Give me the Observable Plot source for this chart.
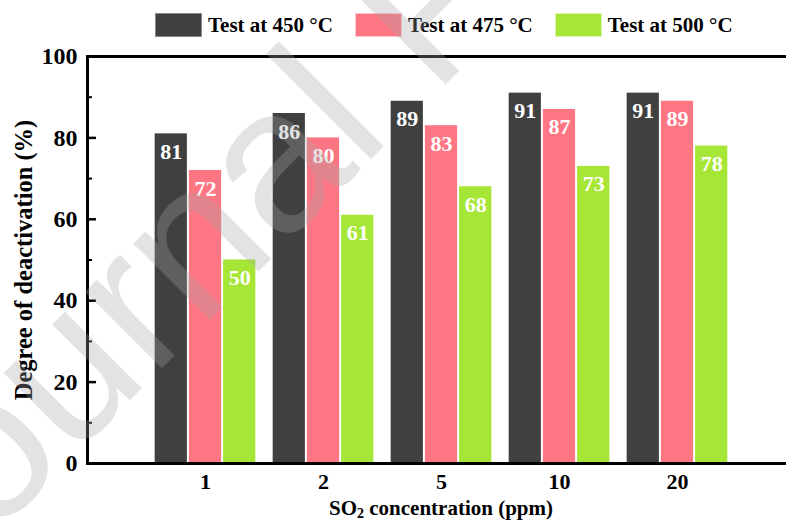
<!DOCTYPE html>
<html>
<head>
<meta charset="utf-8">
<script src="https://cdn.jsdelivr.net/npm/d3@7"></script>
<script src="https://cdn.jsdelivr.net/npm/@observablehq/plot@0.6"></script>
<style>
  html, body { margin: 0; padding: 0; background: #fff; overflow: hidden; }
  #page { position: relative; width: 786px; height: 521px; overflow: hidden;
          font-family: 'Liberation Serif', 'Times New Roman', serif; font-weight: bold; color: #000; }
  #legend { height: 44px; display: flex; align-items: flex-start; padding-left: 155px; box-sizing: border-box; }
  .item { display: flex; align-items: center; margin-top: 13px; margin-right: 22px; }
  .sw { width: 47px; height: 24px; box-sizing: border-box; margin-right: 6px; }
  .item span { font-size: 21px; line-height: 24px; white-space: nowrap; }
  #chart { width: 795px; height: 449px; }
  #chart svg { display: block; max-width: none !important; width: 795px; height: 449px; }
  #xtitle { margin-left: 87px; width: 708px; height: 28px; padding-top: 5px; box-sizing: border-box;
            text-align: center; font-size: 21px; line-height: 21px; white-space: nowrap; }
  #xtitle sub { font-size: 14px; line-height: 0; vertical-align: -3px; }
  #mark { position: absolute; left: 0; top: 0; pointer-events: none; font-weight: normal; }
</style>
</head>
<body>
<div id="page">
  <div id="legend"></div>
  <div id="chart"></div>
  <div id="xtitle">SO<sub>2</sub> concentration (ppm)</div>
  <svg id="mark" width="786" height="521">
    <text x="-82" y="612" transform="rotate(-45 -82 612)" font-family="'Liberation Sans', Arial, sans-serif"
          font-weight="normal" font-size="205" fill="#a6a6a6" fill-opacity="0.31">Journal Pre-proof</text>
  </svg>
</div>
<script>
// SO2 concentrations (ppm) on the x axis
const concentrations = ["1", "2", "5", "10", "20"];
// Test temperatures
const series = ["Test at 450 °C", "Test at 475 °C", "Test at 500 °C"];
// Degree of deactivation (%) for each temperature
const deact450 = [81, 86, 89, 91, 91];
const deact475 = [72, 80, 83, 87, 89];
const deact500 = [50, 61, 68, 73, 78];
// Axis ticks
const yTicks = [0, 20, 40, 60, 80, 100];
const yMinorTicks = [10, 30, 50, 70, 90];
const yTitle = "Degree of deactivation (%)";

const colors = ["#404040", "#fe7683", "#a6e636"];
const seriesValues = [deact450, deact475, deact500];

// Long table: one row per bar
const rows = [];
concentrations.forEach((c, ci) => {
  seriesValues.forEach((vals, si) => {
    rows.push({conc: c, pos: ci + 1, series: series[si], si, value: vals[ci]});
  });
});
const xTicks = concentrations.map((c, i) => i + 1);

// Width of one bar slot within a group, in x units
const slot = 0.29;

const chart = Plot.plot({
  width: 795,
  height: 449,
  marginLeft: 87,
  marginRight: 0,
  marginTop: 12,
  marginBottom: 30,
  style: {fontFamily: "'Liberation Serif', 'Times New Roman', serif", overflow: "visible", background: "transparent"},
  x: {domain: [0, 6]},
  y: {domain: [0, 100]},
  color: {domain: series, range: colors},
  marks: [
    Plot.rectY(rows, {
      x1: d => d.pos + (d.si - 1.5) * slot,
      x2: d => d.pos + (d.si - 0.5) * slot,
      y: "value",
      fill: "series",
      insetLeft: 1,
      insetRight: 1
    }),
    Plot.text(rows, {
      x: d => d.pos + (d.si - 1) * slot,
      y: "value",
      text: d => String(d.value),
      dy: 18,
      fill: "white",
      fontSize: 22,
      fontWeight: "bold"
    }),
    Plot.frame({strokeWidth: 3, stroke: "#000"}),
    Plot.axisY(yTicks, {tickSize: 0, tickPadding: 10, fontSize: 24, fontWeight: "bold", label: null}),
    Plot.axisY(yTicks, {tickSize: -9, strokeWidth: 2.5, tickFormat: () => "", label: null}),
    Plot.axisY(yMinorTicks, {tickSize: -5, strokeWidth: 2, tickFormat: () => "", label: null}),
    Plot.axisX(xTicks, {tickSize: 0, tickPadding: 10, fontSize: 22, fontWeight: "bold",
                        tickFormat: p => concentrations[p - 1], label: null}),
    Plot.text([yTitle], {frameAnchor: "left", rotate: -90, dx: -63, text: d => d, textAnchor: "middle",
                         fontSize: 24.5, fontWeight: "bold", fill: "#000"})
  ]
});
document.getElementById("chart").append(chart);

// Legend above the plot
const legend = document.getElementById("legend");
series.forEach((s, i) => {
  const item = document.createElement("div");
  item.className = "item";
  const sw = document.createElement("div");
  sw.className = "sw";
  sw.style.background = colors[i];
  sw.style.border = i === 0 ? "1px solid #8a8a8a" : "1px solid rgba(255,255,255,0.6)";
  const label = document.createElement("span");
  label.textContent = s;
  item.append(sw, label);
  legend.append(item);
});
</script>
</body>
</html>
